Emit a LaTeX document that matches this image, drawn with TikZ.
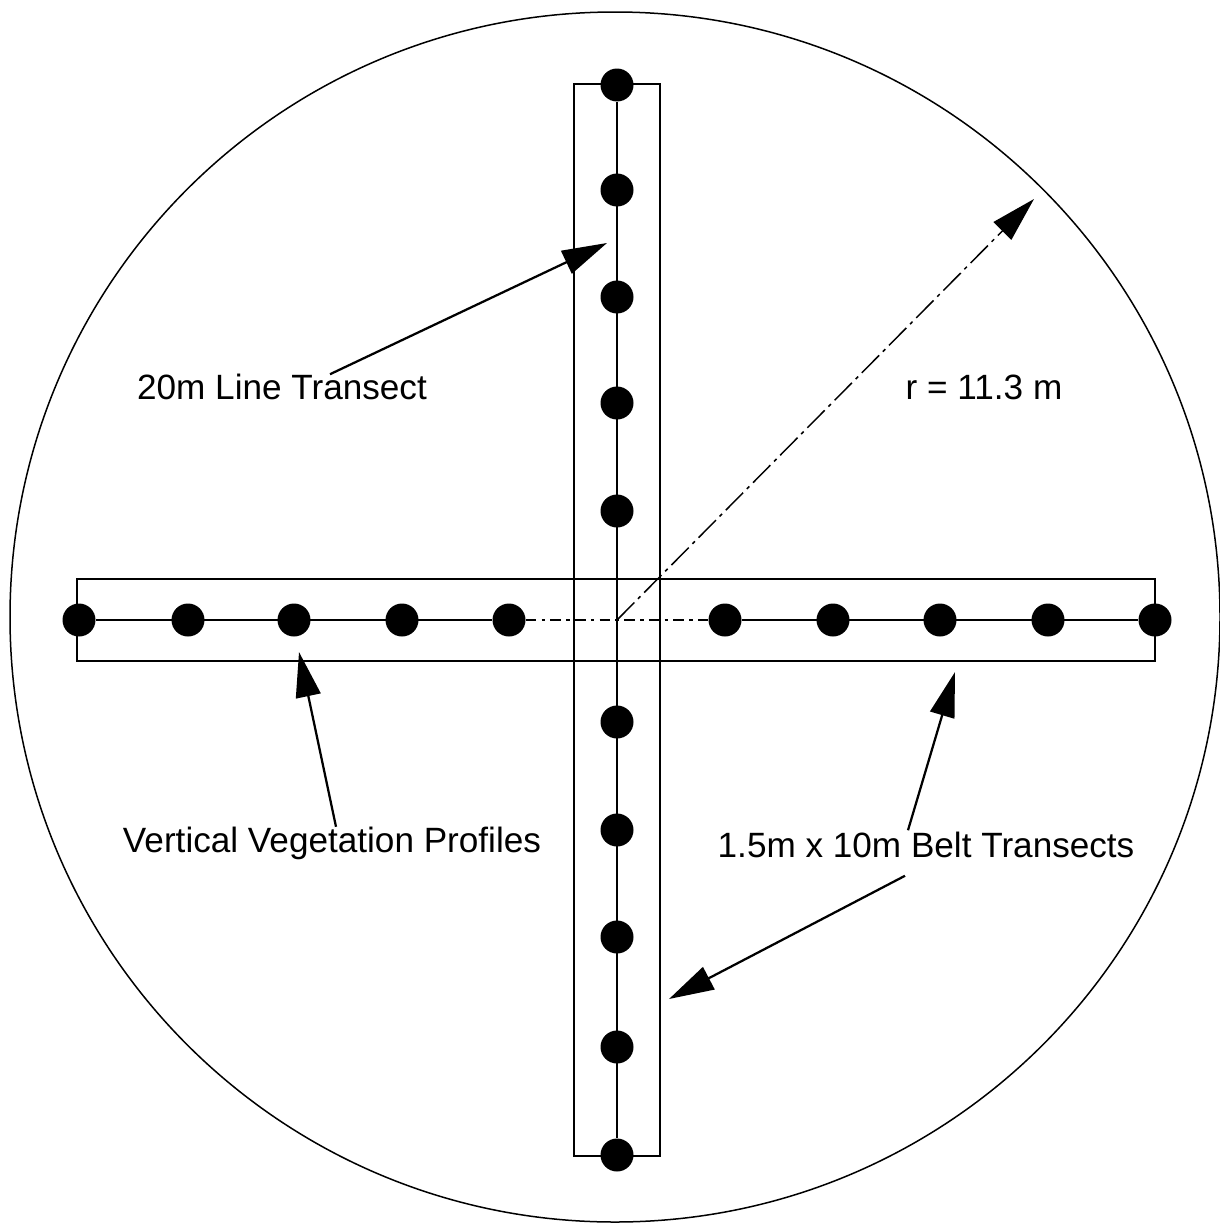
\documentclass[tikz,border=0pt]{standalone}
\usepackage{fontspec}
\setmainfont{Liberation Sans}
\usetikzlibrary{arrows.meta,calc}
\begin{document}
\begin{tikzpicture}[x=0.02cm,y=-0.02cm,
    dot/.style={circle,fill=black,inner sep=0pt,minimum size=0.66cm},
    belt/.style={draw,line width=0.5mm},
    pointer/.style={-{Triangle[length=0.9cm,width=0.5cm]},line width=0.45mm},
    label/.style={font=\fontsize{20}{24}\selectfont,inner sep=2pt}]
        \useasboundingbox (0,0) rectangle (1220,1227);
        \draw[line width=0.3mm] (615,617) circle[radius=605];
        \coordinate (c) at (617,620);

        % belt transects
        \draw[belt] (77,579) rectangle (1155,661);
        \draw[belt] (574,84) rectangle (660,1156);

        % sample points along the line transects
        \foreach \i/\x in {1/79,2/188,3/294,4/402,5/509,6/725,7/833,8/940,9/1048,10/1155}
            \node[dot] (h\i) at (\x,620) {};
        \foreach \i/\y in {1/85,2/190,3/297,4/403,5/511,6/722,7/830,8/937,9/1047,10/1155}
            \node[dot] (v\i) at (617,\y) {};
        \draw[line width=0.35mm] (h1) -- (h5);
        \draw[line width=0.35mm,dash pattern=on 6pt off 3pt on 2pt off 3pt] (h5) -- (h6);
        \draw[line width=0.35mm] (h6) -- (h10);
        \draw[line width=0.35mm] (v1) -- (v10);

        % radius
        \coordinate (rtip) at (1034,199);
        \draw[pointer,line width=0.3mm,dash pattern=on 14pt off 3pt on 2pt off 3pt] (c) -- (rtip);
        \node[label] (rl) at (984,387) {r = 11.3 m};

        % labels with pointers
        \node[label] (ln) at (282,387) {20m Line Transect};
        \coordinate (lntip) at (607,243);
        \draw[pointer] ($(ln.north)+(48,4)$) -- (lntip);

        \node[label] (vp) at (332,843) {Vertical Vegetation Profiles};
        \coordinate (vptip) at (299,652);
        \draw[pointer] ($(vp.north)+(4,4)$) -- (vptip);

        \node[label] (bt) at (926,845) {1.5m x 10m Belt Transects};
        \coordinate (bttip1) at (955,672);
        \coordinate (bttip2) at (669,999);
        \draw[pointer] ($(bt.north)+(-18,2)$) -- (bttip1);
        \draw[pointer] ($(bt.south)+(-21,14)$) -- (bttip2);
    \end{tikzpicture}
\end{document}
